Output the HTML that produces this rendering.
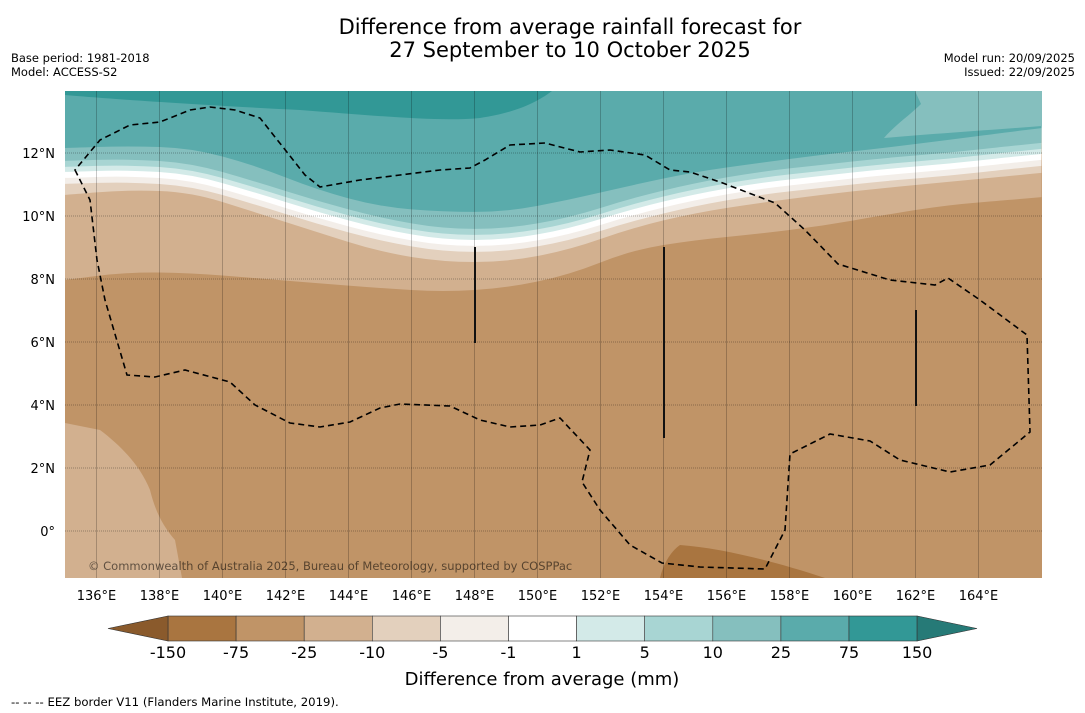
<!DOCTYPE html>
<html><head><meta charset="utf-8"><style>
body{margin:0;background:#fff;width:1085px;height:713px;overflow:hidden;font-family:"DejaVu Sans","Liberation Sans",sans-serif}
svg{position:absolute;left:0;top:0}
</style></head><body>
<svg id="chart" width="1085" height="713">
<text x="570" y="34" font-size="21" text-anchor="middle">Difference from average rainfall forecast for</text>
<text x="570" y="57" font-size="21" text-anchor="middle">27 September to 10 October 2025</text>
<text x="11" y="62" font-size="11.5">Base period: 1981-2018</text>
<text x="11" y="76" font-size="11.5">Model: ACCESS-S2</text>
<text x="1075" y="62" font-size="11.5" text-anchor="end">Model run: 20/09/2025</text>
<text x="1075" y="76" font-size="11.5" text-anchor="end">Issued: 22/09/2025</text>
<defs><clipPath id="mapclip"><rect x="65" y="91" width="977" height="487"/></clipPath></defs>
<g id="map" clip-path="url(#mapclip)"></g>
<g id="axes"></g>
<g id="cbar"></g>
<text x="542" y="685" font-size="18" text-anchor="middle">Difference from average (mm)</text>
<text x="11" y="706" font-size="11.7">--  --  -- EEZ border V11 (Flanders Marine Institute, 2019).</text>
</svg>
<script>
// ---- data ----
const lons=[135,137,139,141,143,145,147,149,151,153,155,157,159,161,163,165,166];
function L(ys){return ys.map(y=>+((531-y)/31.5).toFixed(2));}
const latM25=L([280,272,273,278,283,288,292,288,275,250,240,234,226,215,205,200,197]);
const latM10=L([195,190,192,212,232,252,262,262,250,228,213,203,195,188,182,176,173]);
const latM5 =L([184,182,186,204,224,241,252,252,241,221,206,195,188,181,176,169,166]);
const latM1 =L([178,176,180,198,218,235,246,246,235,215,200,189,182,175,170,163,160]);
const latP1 =L([172,170,174,192,212,229,240,240,229,209,194,183,176,169,164,157,154]);
const latP5 =L([167,165,169,187,207,224,235,235,224,204,189,178,171,164,159,152,149]);
const latP10=L([161,159,163,181,201,218,229,229,218,198,183,172,165,158,153,146,143]);
const latP25=L([148,146,148,165,190,207,212,212,200,185,172,163,155,148,140,132,128]);
const levels=[-150,-75,-25,-10,-5,-1,1,5,10,25,75,150];
const colors=['#a97540','#c09467','#d2b08f','#e3d0bd','#f3eee9','#ffffff','#d3eae8','#a8d5d3','#85bfbe','#5aabab','#329896'];
const lonTicks=[136,138,140,142,144,146,148,150,152,154,156,158,160,162,164];
const latTicks=[0,2,4,6,8,10,12];

const X=lon=>65+(lon-135)*31.5;
const Y=lat=>531-lat*31.5;
const NS='http://www.w3.org/2000/svg';
function mk(tag,attrs,parent){const e=document.createElementNS(NS,tag);for(const k in attrs)e.setAttribute(k,attrs[k]);parent.appendChild(e);return e;}
const map=document.getElementById('map');
const bg=mk('rect',{x:65,y:91,width:977,height:487,fill:colors[1]},map);


const bands=[[latM25,2,'band-m25-m10'],[latM10,3,'band-m10-m5'],[latM5,4,'band-m5-m1'],[latM1,5,'band-m1-p1'],[latP1,6,'band-p1-p5'],[latP5,7,'band-p5-p10'],[latP10,8,'band-p10-p25'],[latP25,9,'band-p25-p75']];
bands.forEach(([lats,ci,name])=>{
  let d='M'+X(lons[0])+','+Y(lats[0]);
  for(let i=1;i<lons.length;i++){const x0=X(lons[i-1]),x1=X(lons[i]),y0=Y(lats[i-1]),y1=Y(lats[i]);const cx=(x0+x1)/2;d+=' Q'+x0+','+y0+' '+cx+','+((y0+y1)/2);}
  d+=' L'+X(lons[lons.length-1])+','+Y(lats[lats.length-1])+' L1042,85 L65,85 Z';
  const p=mk('path',{d:d,fill:colors[ci]},map);
  
  
});
const extra=[
 ['M65,91 L65,95 C100,98 180,104 300,110 C380,116 440,122 480,118 C520,112 540,100 552,91 Z',colors[10],'band-p75-top'],
 ['M915,91 L921,104 C910,115 895,125 884,138 C930,134 990,130 1042,126 L1042,91 Z',colors[8],'band-p10-topright'],
 ['M65,423 L100,430 C120,445 140,465 150,490 C155,510 162,525 175,540 L182,578 L65,578 Z',colors[2],'band-m25-southwest'],
 ['M680,545 C720,548 770,560 825,578 L660,578 C663,565 670,552 680,545 Z',colors[0],'band-m150-south']
];
extra.forEach(([d,c,n])=>{const p=mk('path',{d:d,fill:c},map);
 
 });
lonTicks.forEach(lo=>{const l=mk('line',{x1:X(lo),x2:X(lo),y1:91,y2:578,stroke:'#000','stroke-opacity':0.28,'stroke-width':0.8},map);
 
 });
latTicks.forEach(la=>{const l=mk('line',{x1:65,x2:1042,y1:Y(la),y2:Y(la),stroke:'#000','stroke-opacity':0.4,'stroke-width':0.8,'stroke-dasharray':'1,1'},map);
 
 });
const eez=mk('path',{d:'M75,170 L90,200 L97,260 L105,300 L127,375 L155,377 L185,370 L230,382 L255,405 L290,423 L320,427 L350,422 L380,408 L400,404 L450,406 L480,420 L510,427 L540,425 L560,418 L590,450 L582,482 L600,510 L630,545 L662,563 L700,567 L765,569 L785,530 L790,454 L830,434 L870,441 L900,460 L950,472 L990,465 L1030,432 L1027,335 L980,300 L948,278 L935,285 L890,280 L838,264 L805,230 L775,203 L720,182 L690,172 L670,170 L645,155 L610,150 L580,152 L545,143 L510,145 L485,160 L470,168 L440,170 L400,175 L360,180 L320,187 L305,175 L260,118 L235,110 L210,107 L190,110 L160,122 L130,125 L100,140 Z',fill:'none',stroke:'#000','stroke-width':1.6,'stroke-dasharray':'6,4'},map);


[[475,247,343],[664,247,438],[916,310,406]].forEach(([x,a,b])=>{const l=mk('line',{x1:x,x2:x,y1:a,y2:b,stroke:'#111','stroke-width':2},map);
 
 });
const cp=mk('text',{x:88,y:570,'font-size':11.5,fill:'#000','fill-opacity':0.55},map);
cp.textContent='© Commonwealth of Australia 2025, Bureau of Meteorology, supported by COSPPac';


const axes=document.getElementById('axes');
lonTicks.forEach(lo=>{const t=mk('text',{x:X(lo),y:600,'font-size':13,'text-anchor':'middle'},axes);t.textContent=lo+'°E';
 
 });
latTicks.forEach(la=>{const t=mk('text',{x:55,y:Y(la)+5,'font-size':13,'text-anchor':'end'},axes);t.textContent=la===0?'0°':la+'°N';
 
 });
const cb=document.getElementById('cbar');
const cx0=168,cw=68.1,cy=616,ch=25;
for(let i=0;i<11;i++){const r=mk('rect',{x:cx0+i*cw,y:cy,width:cw,height:ch,fill:colors[i],stroke:'#333','stroke-width':0.6},cb);
 
 }
const la=mk('polygon',{points:`${cx0},${cy} ${cx0},${cy+ch} 108,${cy+ch/2}`,fill:'#8a5a2c',stroke:'#333','stroke-width':0.6},cb);


const ra=mk('polygon',{points:`${cx0+11*cw},${cy} ${cx0+11*cw},${cy+ch} 977,${cy+ch/2}`,fill:'#267a77',stroke:'#333','stroke-width':0.6},cb);


levels.forEach((v,i)=>{const t=mk('text',{x:cx0+i*cw,y:658,'font-size':16,'text-anchor':'middle'},cb);t.textContent=v;
 
 });
</script>
</body></html>
